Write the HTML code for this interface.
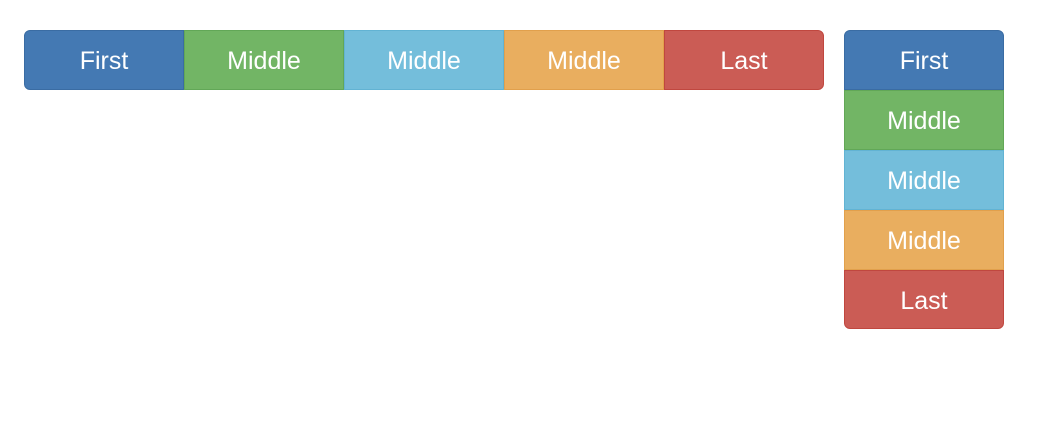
<!DOCTYPE html>
<html><head><style>
body{margin:0;width:1048px;height:424px;background:#fff;position:relative;font-family:"Liberation Sans",sans-serif;overflow:hidden}
.b{position:absolute;box-sizing:border-box;color:#fff;font-size:25px;display:flex;align-items:center;justify-content:center;border:1px solid;padding-top:3px}
.blue{background:#4479b3;border-color:#3a6ca3}
.green{background:#72b565;border-color:#62a757}
.cyan{background:#74bedb;border-color:#62b3d3}
.orange{background:#e9ae5f;border-color:#e1a04c}
.red{background:#cb5c55;border-color:#c0473f}
</style></head><body>
<div>
<div class="b blue" style="left:24px;top:30px;width:160px;height:60px;border-radius:6px 0 0 6px">First</div>
<div class="b green" style="left:184px;top:30px;width:160px;height:60px">Middle</div>
<div class="b cyan" style="left:344px;top:30px;width:160px;height:60px">Middle</div>
<div class="b orange" style="left:504px;top:30px;width:160px;height:60px">Middle</div>
<div class="b red" style="left:664px;top:30px;width:160px;height:60px;border-radius:0 6px 6px 0">Last</div>
</div>
<div>
<div class="b blue" style="left:844px;top:30px;width:160px;height:60px;border-radius:6px 6px 0 0">First</div>
<div class="b green" style="left:844px;top:90px;width:160px;height:60px">Middle</div>
<div class="b cyan" style="left:844px;top:150px;width:160px;height:60px">Middle</div>
<div class="b orange" style="left:844px;top:210px;width:160px;height:60px">Middle</div>
<div class="b red" style="left:844px;top:270px;width:160px;height:59px;border-radius:0 0 6px 6px">Last</div>
</div>
</body></html>
